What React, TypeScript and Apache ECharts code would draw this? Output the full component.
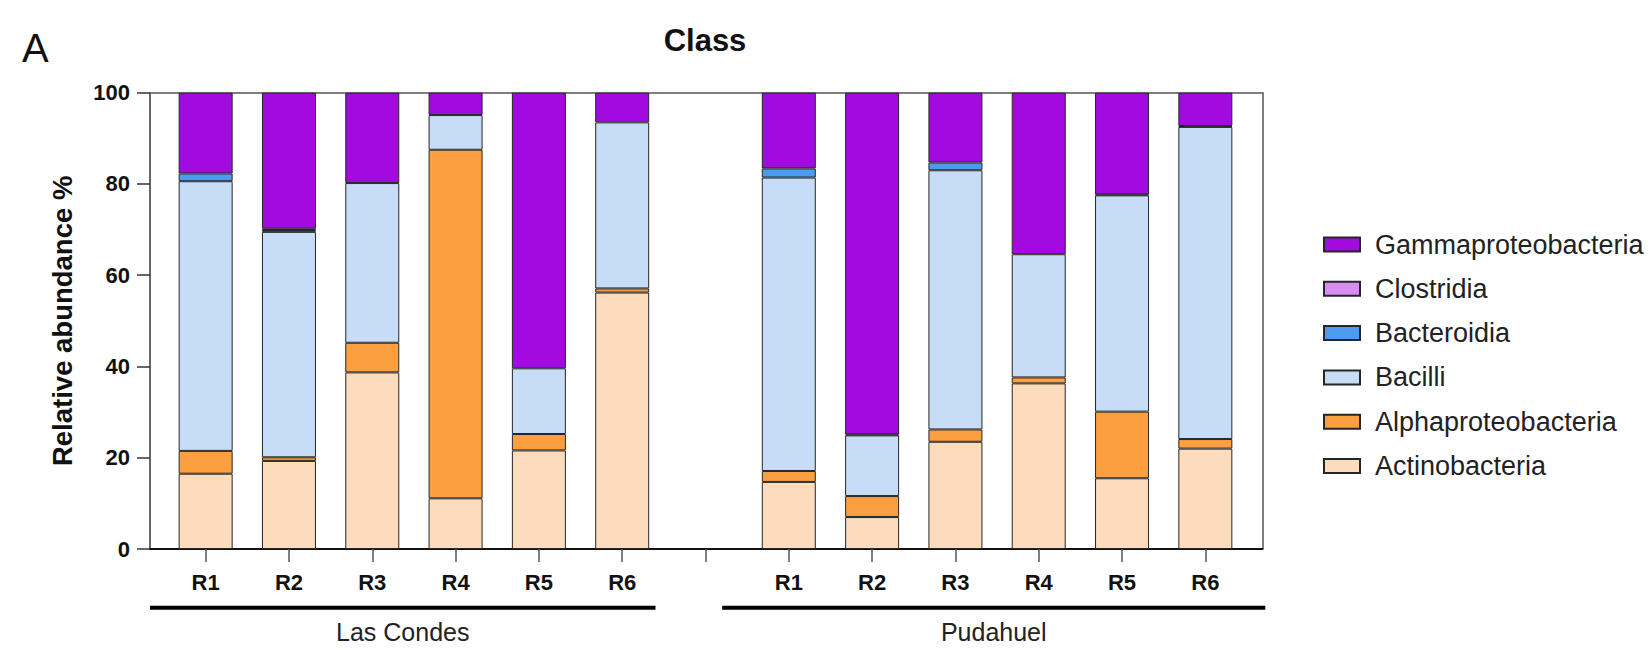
import React, { useEffect, useRef } from "react";
import * as echarts from "echarts";

// Sample labels and the two sampling sites
const sites = ["R1", "R2", "R3", "R4", "R5", "R6"];
const groups = ["Las Condes", "Pudahuel"];
const yTicks = [0, 20, 40, 60, 80, 100];

// Relative abundance (%) per class, Las Condes R1–R6 then Pudahuel R1–R6
const actinobacteria = [16.5, 19.3, 38.7, 11.1, 21.6, 56.2, 14.7, 7.0, 23.5, 36.3, 15.5, 22.0];
const alphaproteobacteria = [5.0, 0.8, 6.5, 76.4, 3.6, 0.9, 2.4, 4.6, 2.7, 1.3, 14.6, 2.1];
const bacilli = [59.1, 49.4, 35.0, 7.6, 14.4, 36.4, 64.3, 13.3, 56.8, 27.0, 47.4, 68.4];
const bacteroidia = [1.7, 0.4, 0, 0, 0, 0, 2.0, 0.2, 1.7, 0, 0.2, 0.2];
const clostridia = [0, 0.3, 0, 0, 0, 0, 0, 0, 0, 0, 0, 0];
const gammaproteobacteria = [17.7, 29.8, 19.8, 4.9, 60.4, 6.5, 16.6, 74.9, 15.3, 35.4, 22.3, 7.3];

// Stacking order, bottom to top
const classes = [
  { name: "Actinobacteria", values: actinobacteria, color: "#fddcbd" },
  { name: "Alphaproteobacteria", values: alphaproteobacteria, color: "#fb9f40" },
  { name: "Bacilli", values: bacilli, color: "#c7dcf6" },
  { name: "Bacteroidia", values: bacteroidia, color: "#4c9bef" },
  { name: "Clostridia", values: clostridia, color: "#d98df2" },
  { name: "Gammaproteobacteria", values: gammaproteobacteria, color: "#a20bdf" },
];

const FONT = "Liberation Sans, Arial, sans-serif";

// Plot frame (pixels) and the narrower band holding the 13 category slots
const FRAME = { left: 150, right: 388.7, top: 92.7, bottom: 101 };
const BAND = { left: 164, right: 404, top: 92.7, bottom: 101 };

export default function App() {
  const ref = useRef<HTMLDivElement>(null);

  useEffect(() => {
    if (!ref.current) return;
    const chart = echarts.init(ref.current, undefined, { renderer: "svg" });

    // Las Condes, one empty slot, Pudahuel
    const categories = [...sites, "", ...sites];
    const withGap = (vals: number[]) => {
      const v = vals.map((x) => (x > 0 ? x : "-"));
      return [...v.slice(0, sites.length), "-", ...v.slice(sites.length)];
    };

    const series = classes.map((c) => ({
      name: c.name,
      type: "bar",
      stack: "total",
      xAxisIndex: 0,
      yAxisIndex: 0,
      barWidth: 54,
      itemStyle: { color: c.color, borderColor: "#262626", borderWidth: 1 },
      emphasis: { disabled: true },
      data: withGap(c.values),
    }));

    const option: any = {
      animation: false,
      backgroundColor: "#ffffff",
      textStyle: { fontFamily: FONT },
      grid: [
        { ...BAND },
        { ...FRAME },
      ],
      xAxis: [
        {
          type: "category",
          gridIndex: 0,
          data: categories,
          axisLine: { show: false },
          axisTick: {
            show: true,
            alignWithLabel: true,
            length: 13,
            lineStyle: { color: "#555", width: 1.5 },
          },
          axisLabel: {
            interval: 0,
            fontSize: 22,
            fontWeight: "bold",
            color: "#111",
            fontFamily: FONT,
            margin: 22,
          },
        },
        {
          type: "value",
          gridIndex: 1,
          min: 0,
          max: 1,
          splitLine: { show: false },
          axisLine: { show: true, onZero: false, lineStyle: { color: "#111", width: 2 } },
          axisTick: { show: false },
          axisLabel: { show: false },
        },
        {
          type: "value",
          gridIndex: 1,
          position: "top",
          min: 0,
          max: 1,
          splitLine: { show: false },
          axisLine: { show: true, onZero: false, lineStyle: { color: "#555", width: 1.5 } },
          axisTick: { show: false },
          axisLabel: { show: false },
        },
      ],
      yAxis: [
        {
          type: "value",
          gridIndex: 0,
          min: 0,
          max: 100,
          show: false,
        },
        {
          type: "value",
          gridIndex: 1,
          min: 0,
          max: 100,
          interval: 20,
          splitLine: { show: false },
          axisLine: { show: true, onZero: false, lineStyle: { color: "#333", width: 1.5 } },
          axisTick: { show: true, length: 13, lineStyle: { color: "#333", width: 1.5 } },
          axisLabel: {
            customValues: yTicks,
            fontSize: 22,
            fontWeight: "bold",
            color: "#111",
            fontFamily: FONT,
            margin: 20,
          },
          name: "Relative abundance %",
          nameLocation: "middle",
          nameGap: 74,
          nameTextStyle: { fontSize: 27.5, fontWeight: "bold", color: "#111", fontFamily: FONT },
        },
        {
          type: "value",
          gridIndex: 1,
          position: "right",
          min: 0,
          max: 100,
          splitLine: { show: false },
          axisLine: { show: true, onZero: false, lineStyle: { color: "#555", width: 1.5 } },
          axisTick: { show: false },
          axisLabel: { show: false },
        },
      ],
      legend: {
        orient: "vertical",
        left: 1318,
        top: 226,
        itemWidth: 36,
        itemHeight: 14,
        itemGap: 17.3,
        icon: "rect",
        selectedMode: false,
        data: classes.map((c) => c.name).reverse(),
        textStyle: {
          fontSize: 27,
          lineHeight: 27,
          color: "#222",
          fontFamily: FONT,
          padding: [0, 0, 0, 10],
        },
      },
      graphic: [
        {
          id: "panel",
          type: "text",
          left: 22,
          top: 28,
          style: { text: "A", fontSize: 40, fill: "#111", fontFamily: FONT },
        },
        {
          id: "title",
          type: "text",
          x: 705,
          y: 40,
          style: {
            text: "Class",
            fontSize: 31,
            fontWeight: "bold",
            fill: "#111",
            fontFamily: FONT,
            align: "center",
            verticalAlign: "middle",
          },
        },
      ],
      series,
    };

    chart.setOption(option);

    // Group underlines and names, placed from the category slots they span
    const px = (i: number) => chart.convertToPixel({ xAxisIndex: 0 }, i) as number;
    const slot = px(1) - px(0);
    const frameLeft = FRAME.left;
    const frameRight = 1651 - FRAME.right;
    const spans = [
      [frameLeft, px(5) + slot * 0.4],
      [px(7) - slot * 0.8, frameRight + 3],
    ];
    const lineY = 607.7;
    const extra: any[] = [];
    spans.forEach(([x0, x1], i) => {
      extra.push({
        id: "gline" + i,
        type: "line",
        shape: { x1: x0, y1: lineY, x2: x1, y2: lineY },
        style: { stroke: "#000", lineWidth: 4 },
      });
      extra.push({
        id: "gname" + i,
        type: "text",
        x: (x0 + x1) / 2,
        y: 632,
        style: {
          text: groups[i],
          fontSize: 25,
          fill: "#222",
          fontFamily: FONT,
          align: "center",
          verticalAlign: "middle",
        },
      });
    });
    chart.setOption({ graphic: extra });

    return () => chart.dispose();
  }, []);

  return (
    <div
      ref={ref}
      style={{ position: "fixed", left: 0, top: 0, width: 1651, height: 650, background: "#fff" }}
    />
  );
}
